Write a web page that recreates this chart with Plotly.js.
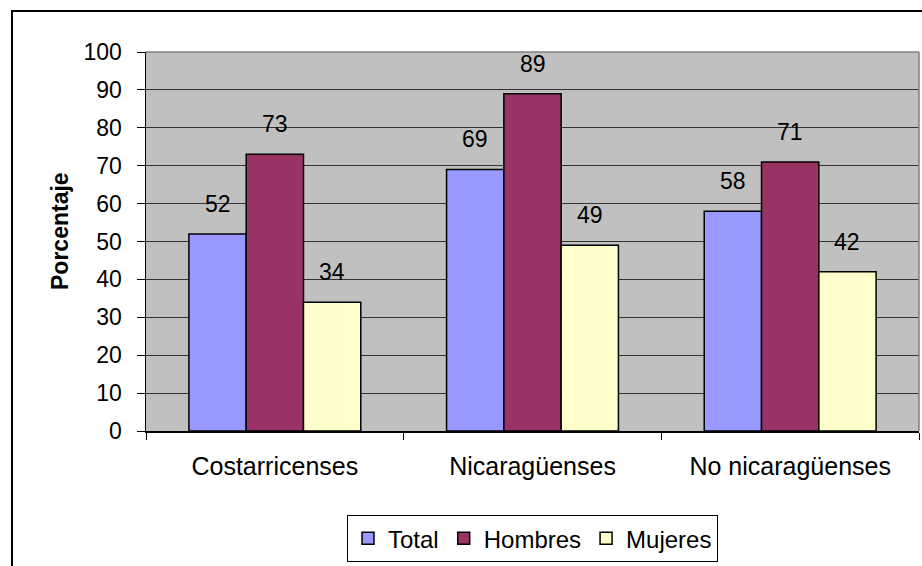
<!DOCTYPE html>
<html>
<head>
<meta charset="utf-8">
<script src="https://cdn.plot.ly/plotly-3.0.1.min.js"></script>
<style>
  html, body { margin: 0; padding: 0; overflow: hidden; background: #fff; }
  #wrap { position: relative; width: 922px; height: 566px; overflow: hidden; }
  #chart { position: absolute; left: 0; top: 0; width: 922px; height: 566px; }
  #frame { position: absolute; left: 11px; top: 10px; width: 1000px; height: 1000px;
           border: 2px solid #000; pointer-events: none; box-sizing: border-box; }
</style>
</head>
<body>
<div id="wrap">
  <div id="chart"></div>
  <div id="frame"></div>
</div>
<script>
const categories = ["Costarricenses", "Nicaragüenses", "No nicaragüenses"];
const seriesNames = ["Total", "Hombres", "Mujeres"];
const totalValues = [52, 69, 58];
const hombresValues = [73, 89, 71];
const mujeresValues = [34, 49, 42];
const yTickValues = [0, 10, 20, 30, 40, 50, 60, 70, 80, 90, 100];
const yAxisTitle = "Porcentaje";

const seriesValues = [totalValues, hombresValues, mujeresValues];
const seriesColors = ["#9999FF", "#993366", "#FFFFCC"];

const W = 922, H = 566;
const margin = { l: 146, r: 3, t: 52, b: 135 };
const bargap = 0.333;
const FONT = "Liberation Sans, Arial, sans-serif";

const traces = seriesNames.map((name, i) => ({
  type: "bar",
  name: name,
  x: categories,
  y: seriesValues[i],
  marker: { color: seriesColors[i], line: { color: "#000", width: 1.5 } },
  hoverinfo: "skip"
}));

const plotW = W - margin.l - margin.r;
const plotH = H - margin.t - margin.b;
const catW = plotW / categories.length;
const barW = catW * (1 - bargap) / seriesNames.length;

const annotations = [];
seriesValues.forEach((vals, i) => {
  vals.forEach((v, j) => {
    annotations.push({
      x: categories[j], y: v, xref: "x", yref: "y",
      text: String(v), showarrow: false,
      xshift: (i - (seriesNames.length - 1) / 2) * barW,
      yanchor: "bottom", yshift: 15,
      font: { family: FONT, size: 23, color: "#000" }
    });
  });
});

// y-axis title placed like the original (slightly above the plot centre)
annotations.push({
  xref: "paper", yref: "paper",
  x: (60 - margin.l) / plotW, y: (H - margin.b - 231) / plotH,
  xanchor: "center", yanchor: "middle",
  text: "<b>" + yAxisTitle + "</b>", textangle: -90, showarrow: false,
  font: { family: FONT, size: 23, color: "#000" }
});

const layout = {
  width: W, height: H,
  margin: margin,
  paper_bgcolor: "#fff",
  plot_bgcolor: "#C0C0C0",
  barmode: "group",
  bargap: bargap,
  bargroupgap: 0,
  showlegend: true,
  legend: {
    orientation: "h",
    x: 0.5, xanchor: "center",
    y: -0.222, yanchor: "top",
    bordercolor: "#000", borderwidth: 1,
    bgcolor: "#fff",
    font: { family: FONT, size: 24, color: "#000" },
    traceorder: "normal",
    itemwidth: 30
  },
  xaxis: {
    type: "category",
    tickson: "boundaries",
    ticks: "outside", ticklen: 7, tickcolor: "#000", tickwidth: 1,
    showline: true, linecolor: "#000", linewidth: 1.5,
    showgrid: false, zeroline: false,
    ticklabelstandoff: 12,
    tickfont: { family: FONT, size: 25, color: "#000" },
    mirror: false
  },
  yaxis: {
    range: [0, 100],
    tickvals: yTickValues,
    ticks: "outside", ticklen: 8, tickcolor: "#000", tickwidth: 1,
    showline: true, linecolor: "#000", linewidth: 1.5,
    showgrid: true, gridcolor: "#333", gridwidth: 1,
    zeroline: false,
    ticklabelstandoff: 10,
    tickfont: { family: FONT, size: 23, color: "#000" }
  },
  shapes: [
    { type: "line", xref: "paper", yref: "paper", x0: 0, x1: 1, y0: 1, y1: 1,
      line: { color: "#808080", width: 1.5 } },
    { type: "line", xref: "paper", yref: "paper", x0: 1, x1: 1, y0: 0, y1: 1,
      line: { color: "#808080", width: 1.5 } }
  ],
  annotations: annotations
};

Plotly.newPlot("chart", traces, layout, { displayModeBar: false, staticPlot: true });
</script>
</body>
</html>
